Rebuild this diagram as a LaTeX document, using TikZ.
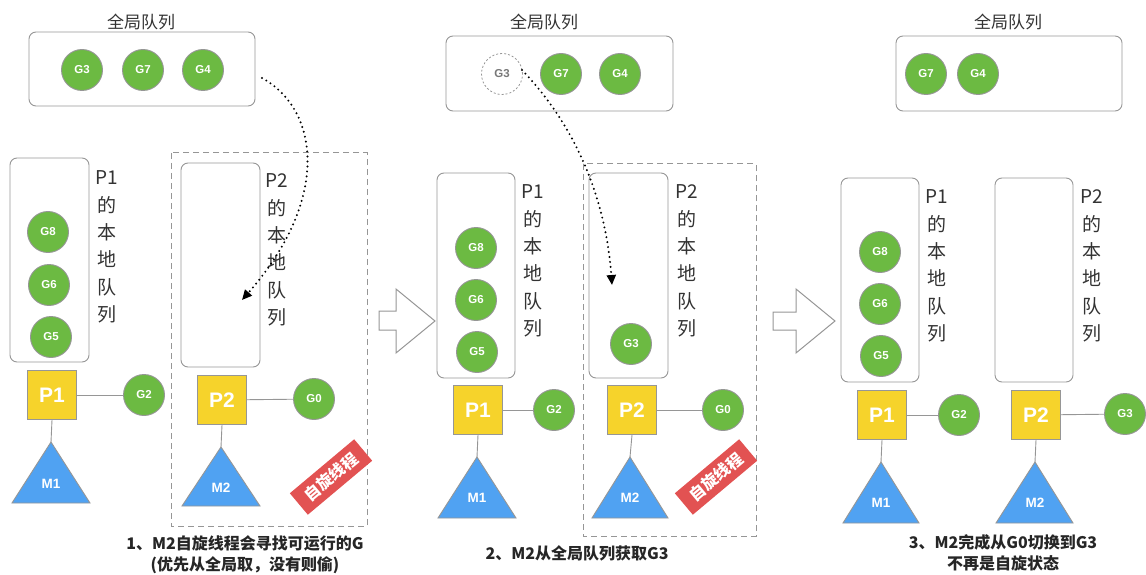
\documentclass[tikz,border=0pt]{standalone}
\usepackage{fontspec}
\setmainfont{Noto Sans CJK SC}
\newfontfamily\lat{Liberation Sans}
\usetikzlibrary{arrows.meta}
\definecolor{ggreen}{RGB}{108,186,66}
\definecolor{pyellow}{RGB}{246,211,43}
\definecolor{mblue}{RGB}{80,162,242}
\definecolor{lred}{RGB}{226,82,82}
\definecolor{edge}{RGB}{150,150,150}
\definecolor{txt}{RGB}{51,51,51}
\tikzset{
  gnode/.style={circle, draw=edge, fill=ggreen, line width=0.9pt, minimum size=41pt, inner sep=0pt, text=white, font=\lat\bfseries\fontsize{11.5}{11.5}\selectfont},
  ghost/.style={circle, draw=edge, dash pattern=on 2pt off 2pt, line width=0.8pt, minimum size=41pt, inner sep=0pt, text=edge!80!black, font=\lat\bfseries\fontsize{11.5}{11.5}\selectfont},
  pnode/.style={rectangle, draw=edge, fill=pyellow, line width=0.9pt, minimum size=49pt, inner sep=0pt, text=white, font=\lat\bfseries\fontsize{21}{21}\selectfont},
  qbox/.style={draw=edge, rounded corners=7pt, line width=0.9pt},
  vlabel/.style={align=center, inner sep=0pt, text=txt, font=\fontsize{19}{27.3}\selectfont},
  tlabel/.style={inner sep=0pt, text=txt, font=\fontsize{17}{17}\selectfont},
  caption/.style={align=center, inner sep=0pt, text=black!85, font=\bfseries\fontsize{16}{21}\selectfont},
  spin/.style={fill=lred, text=white, rotate=40, minimum width=84pt, minimum height=28pt, inner sep=0pt, font=\bfseries\fontsize{16}{16}\selectfont},
  link/.style={draw=edge, line width=0.9pt},
  mtri/.style={draw=edge, fill=mblue, line width=0.9pt, line join=miter},
  mlabel/.style={text=white, inner sep=0pt, font=\lat\bfseries\fontsize{13.5}{13.5}\selectfont},
  dashbox/.style={draw=edge, dash pattern=on 6pt off 4pt, line width=1pt},
  hollow/.style={draw=edge, fill=white, line width=1pt},
  dots/.style={line width=2.2pt, dash pattern=on 0pt off 5pt, line cap=round, -{Triangle[length=10pt,width=9pt]}}
}
\begin{document}
\begin{tikzpicture}[x=1pt,y=-1pt]
\useasboundingbox (0,0) rectangle (1146,575);
% ---------------- Panel 1 ----------------
\node[tlabel] (t1) at (141,22) {全局队列};
\draw[qbox] (29,32) rectangle (255,106);
\node[gnode] (a3) at (82,70) {G3};
\node[gnode] (a7) at (143,70) {G7};
\node[gnode] (a4) at (203,70) {G4};
\draw[qbox] (10,158) rectangle (89,362);
\node[vlabel] (aq1) at (107,247) {P1\\的\\本\\地\\队\\列};
\node[gnode] (a8) at (48,232) {G8};
\node[gnode] (a6) at (49,285) {G6};
\node[gnode] (a5) at (51,337) {G5};
\node[pnode] (ap1) at (52,395) {P1};
\node[gnode] (a2) at (144,395) {G2};
\draw[link] (ap1) -- (a2);
\draw[mtri] (12,503) -- (51,442) -- (90,503) -- cycle;
\coordinate (am1top) at (51,442);
\draw[link] (ap1.south) -- (am1top);
\node[mlabel] (am1) at (51,484) {M1};
\draw[dashbox] (171,153) rectangle (367,526);
\draw[qbox] (181,163) rectangle (260,367);
\node[vlabel] (aq2) at (277,250) {P2\\的\\本\\地\\队\\列};
\node[pnode] (ap2) at (222,400) {P2};
\node[gnode] (a0) at (314,399) {G0};
\draw[link] (ap2) -- (a0);
\draw[mtri] (182,506) -- (221,447) -- (260,506) -- cycle;
\coordinate (am2top) at (221,447);
\draw[link] (ap2.south) -- (am2top);
\node[mlabel] (am2) at (221,488) {M2};
\node[spin] (aspin) at (331,477) {自旋线程};
\coordinate (ads) at (262,78);
\coordinate (ade) at (242,300);
\draw[dots] (ads) .. controls (320,110) and (330,200) .. (ade);
\node[caption] (acap) at (245,555) {1、M2自旋线程会寻找可运行的G\\(优先从全局取，没有则偷)};
% hollow arrow 1
\draw[hollow] (379,311) -- (396,311) -- (396,289) -- (435,321) -- (396,353) -- (396,330) -- (379,330) -- cycle;
% ---------------- Panel 2 ----------------
\node[tlabel] (t2) at (544,22) {全局队列};
\draw[qbox] (446,36) rectangle (673,111);
\node[ghost] (b3g) at (502,74) {G3};
\node[gnode] (b7) at (561,74) {G7};
\node[gnode] (b4) at (620,74) {G4};
\draw[qbox] (437,173) rectangle (515,378);
\node[vlabel] (bq1) at (533,261) {P1\\的\\本\\地\\队\\列};
\node[gnode] (b8) at (476,248) {G8};
\node[gnode] (b6) at (476,300) {G6};
\node[gnode] (b5) at (477,352) {G5};
\node[pnode] (bp1) at (478,410) {P1};
\node[gnode] (b2) at (554,410) {G2};
\draw[link] (bp1) -- (b2);
\draw[mtri] (438,518) -- (477,457) -- (516,518) -- cycle;
\coordinate (bm1top) at (477,457);
\draw[link] (bp1.south) -- (bm1top);
\node[mlabel] (bm1) at (477,498) {M1};
\draw[dashbox] (583,164) rectangle (756,536);
\draw[qbox] (589,173) rectangle (668,378);
\node[vlabel] (bq2) at (687,261) {P2\\的\\本\\地\\队\\列};
\node[gnode] (b3) at (631,344) {G3};
\node[pnode] (bp2) at (632,410) {P2};
\node[gnode] (b0) at (723,410) {G0};
\draw[link] (bp2) -- (b0);
\draw[mtri] (592,518) -- (630,457) -- (668,518) -- cycle;
\coordinate (bm2top) at (630,457);
\draw[link] (bp2.south) -- (bm2top);
\node[mlabel] (bm2) at (630,498) {M2};
\node[spin] (bspin) at (716,477) {自旋线程};
\coordinate (bds) at (522,70);
\coordinate (bde) at (612,285);
\draw[dots] (bds) .. controls (570,120) and (605,190) .. (bde);
\node[caption] (bcap) at (577,553) {2、M2从全局队列获取G3};
% hollow arrow 2
\draw[hollow] (773,312) -- (796,312) -- (796,289) -- (835,321) -- (796,353) -- (796,330) -- (773,330) -- cycle;
% ---------------- Panel 3 ----------------
\node[tlabel] (t3) at (1008,22) {全局队列};
\draw[qbox] (896,36) rectangle (1122,111);
\node[gnode] (c7) at (926,74) {G7};
\node[gnode] (c4) at (978,74) {G4};
\draw[qbox] (841,178) rectangle (919,382);
\node[vlabel] (cq1) at (937,266) {P1\\的\\本\\地\\队\\列};
\node[gnode] (c8) at (880,252) {G8};
\node[gnode] (c6) at (880,304) {G6};
\node[gnode] (c5) at (881,356) {G5};
\draw[qbox] (995,178) rectangle (1073,382);
\node[vlabel] (cq2) at (1092,266) {P2\\的\\本\\地\\队\\列};
\node[pnode] (cp1) at (882,415) {P1};
\node[gnode] (c2) at (959,415) {G2};
\draw[link] (cp1) -- (c2);
\draw[mtri] (843,523) -- (881,462) -- (919,523) -- cycle;
\coordinate (cm1top) at (881,462);
\draw[link] (cp1.south) -- (cm1top);
\node[mlabel] (cm1) at (881,503) {M1};
\node[pnode] (cp2) at (1036,415) {P2};
\node[gnode] (c3) at (1125,414) {G3};
\draw[link] (cp2) -- (c3);
\draw[mtri] (996,523) -- (1035,462) -- (1073,523) -- cycle;
\coordinate (cm2top) at (1035,462);
\draw[link] (cp2.south) -- (cm2top);
\node[mlabel] (cm2) at (1035,503) {M2};
\node[caption] (ccap) at (1003,553) {3、M2完成从G0切换到G3\\不再是自旋状态};
\end{tikzpicture}
\end{document}
